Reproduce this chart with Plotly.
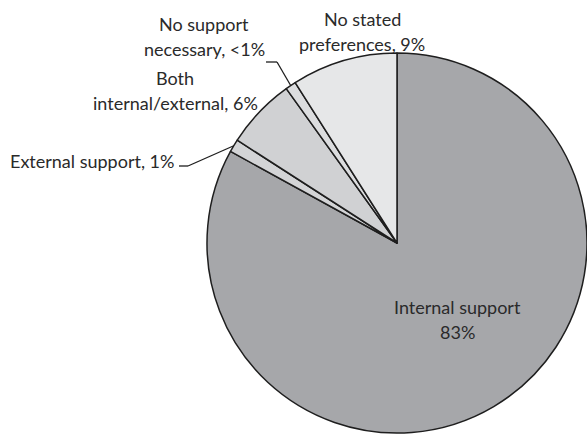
import math
import plotly.graph_objects as go

# ---- data ----
labels = ["Internal support", "External support", "Both internal/external",
          "No support necessary", "No stated preferences"]
values = [83.0, 1.1, 6.0, 0.9, 9.0]
label_lines = {
    0: ["Internal support", "83%"],
    1: ["External support, 1%"],
    2: ["Both", "internal/external, 6%"],
    3: ["No support", "necessary, <1%"],
    4: ["No stated", "preferences, 9%"],
}
colors = ["#a6a7aa", "#d3d4d6", "#d0d1d3", "#dcdddf", "#e6e7e8"]

W, H = 587, 435
FONT = "Lato"
FS = 18
TXT = "#2a2a2a"
LINE_GAP = 25

# pie geometry (pixels)
x0, x1 = 207, 587
side = x1 - x0
cy = 243
r = side / 2
cx = (x0 + x1) / 2
y_top, y_bot = cy - r, cy + r

def px2paper(x, y):
    return x / W, 1 - y / H

fig = go.Figure()
fig.add_trace(go.Pie(
    labels=labels, values=values, sort=False, direction="clockwise", rotation=0,
    marker=dict(colors=colors, line=dict(color="#1e1e1e", width=1.5)),
    textinfo="none",
    domain=dict(x=[x0 / W, x1 / W], y=[1 - y_bot / H, 1 - y_top / H]),
    showlegend=False, hoverinfo="label+percent",
))

# slice mid angles (degrees clockwise from 12 o'clock)
total = sum(values)
mids = []
acc = 0
for v in values:
    mids.append((acc + v / 2) / total * 360)
    acc += v

def edge_point(i):
    a = math.radians(mids[i])
    return cx + r * math.sin(a), cy - r * math.cos(a)

# first-line centres of labels (pixels) and leader-line elbows
label_pos = {0: (457, 307), 1: (92, 161), 2: (175, 78), 3: (204, 24), 4: (362, 19)}
elbows = {1: ((179, 166), (188, 166)), 3: ((266, 62), (277, 62))}

annotations = []
for i, (lx, ly) in label_pos.items():
    for k, line in enumerate(label_lines[i]):
        px, py = px2paper(lx, ly + k * LINE_GAP)
        annotations.append(dict(x=px, y=py, xref="paper", yref="paper", text=line,
                                showarrow=False, font=dict(family=FONT, size=FS, color=TXT),
                                align="center", xanchor="center", yanchor="middle"))

shapes = []
for i, (a, b) in elbows.items():
    ex, ey = edge_point(i)
    for (p, q) in [(a, b), (b, (ex, ey))]:
        xa, ya = px2paper(*p)
        xb, yb = px2paper(*q)
        shapes.append(dict(type="line", xref="paper", yref="paper", x0=xa, y0=ya, x1=xb, y1=yb,
                           line=dict(color="#1e1e1e", width=1.3)))

fig.update_layout(width=W, height=H, margin=dict(l=0, r=0, t=0, b=0),
                  paper_bgcolor="white", plot_bgcolor="white",
                  annotations=annotations, shapes=shapes)
fig.write_html("out.html")
